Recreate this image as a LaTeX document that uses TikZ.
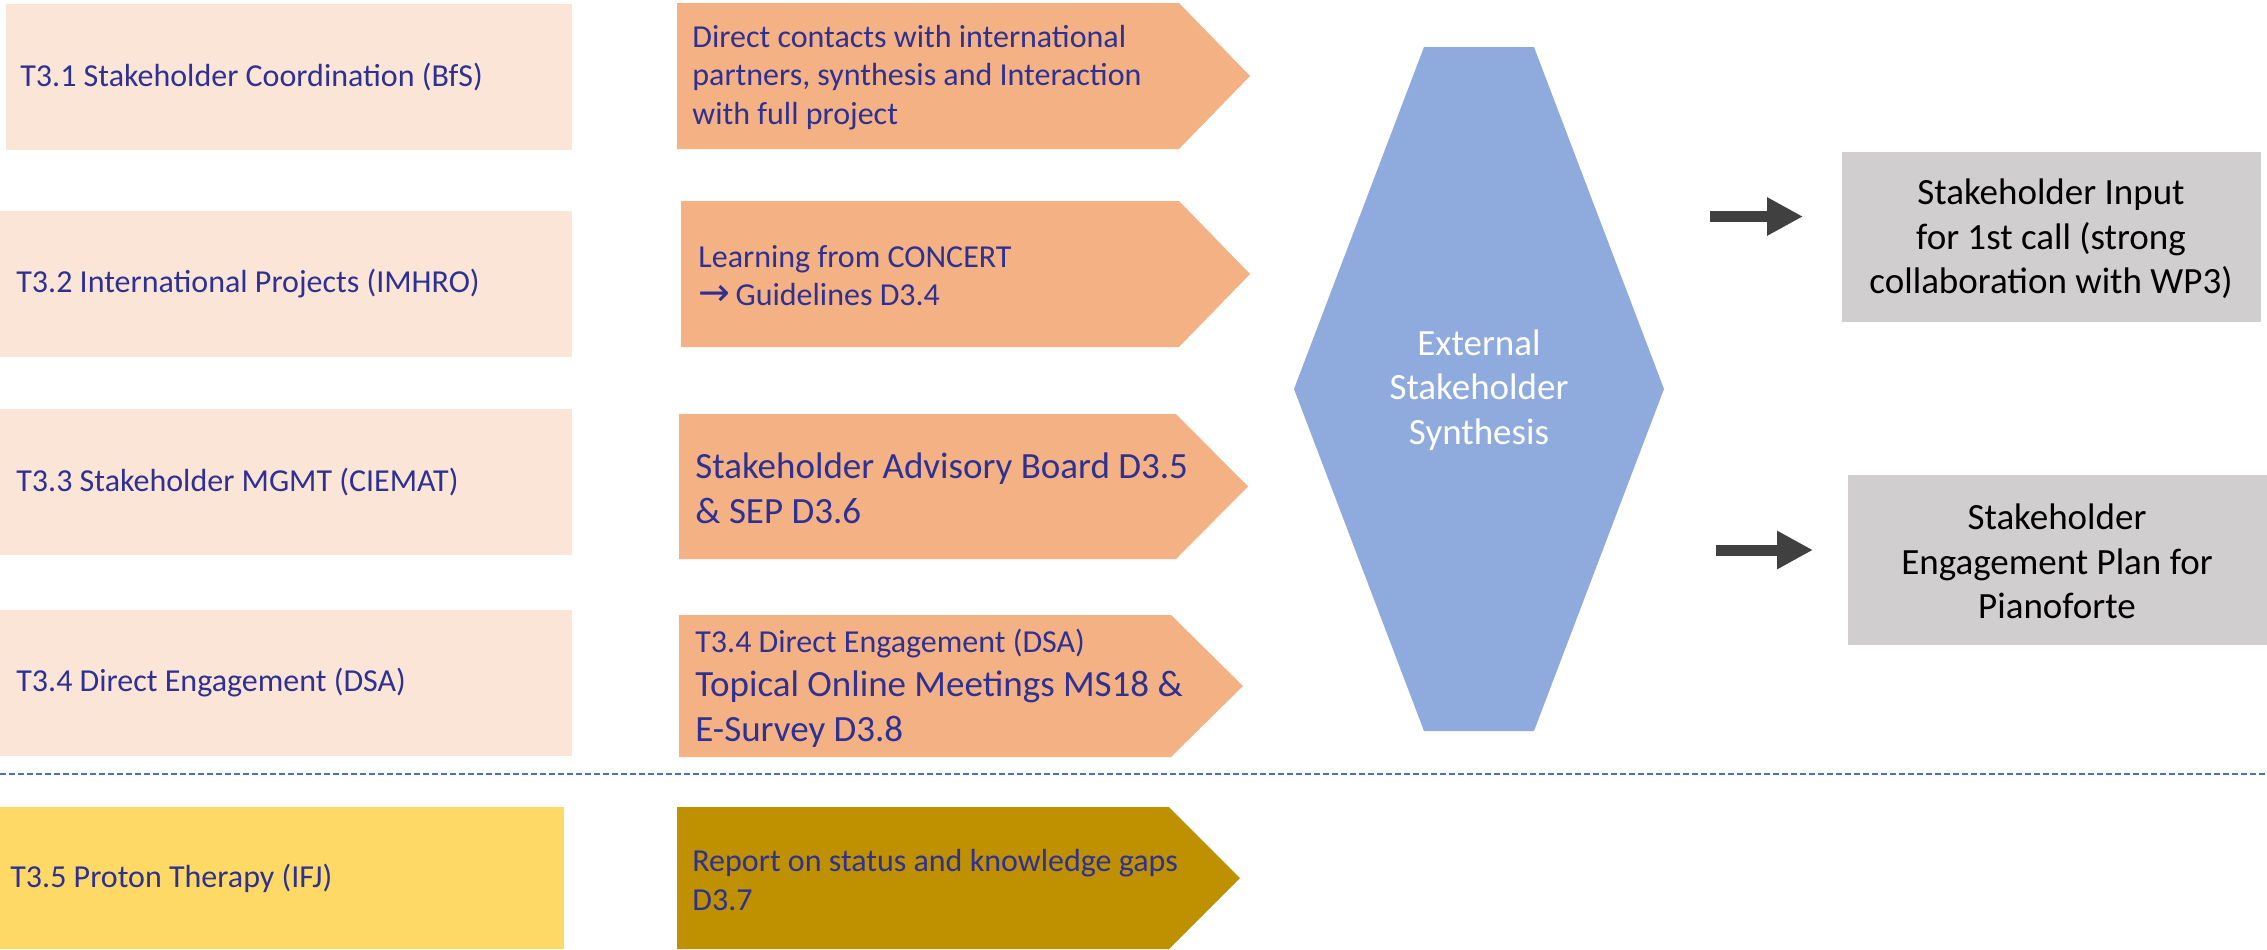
\documentclass[tikz,border=0pt]{standalone}
\usepackage{fontspec}
\setmainfont{Carlito}
\newfontfamily\symf{DejaVu Sans}
\usetikzlibrary{arrows.meta}
\definecolor{peach}{HTML}{FBE5D6}
\definecolor{orangeA}{HTML}{F4B183}
\definecolor{hexblue}{HTML}{8FAADC}
\definecolor{grayB}{HTML}{D0CECE}
\definecolor{yellowB}{HTML}{FFD966}
\definecolor{goldA}{HTML}{BF9000}
\definecolor{dashblue}{HTML}{4472C4}
\definecolor{darkarrow}{HTML}{404040}
\definecolor{navy}{HTML}{2E3192}
\newcommand{\smallf}{\fontsize{16}{19.3}\selectfont}
\newcommand{\bigf}{\fontsize{18.5}{22.3}\selectfont}
\tikzset{
  lbox/.style={fill=peach, draw=none},
  ybox/.style={fill=yellowB, draw=none},
  parrow/.style={fill=orangeA, draw=none},
  garrow/.style={fill=goldA, draw=none},
  gbox/.style={fill=grayB, draw=none},
  ltext/.style={anchor=west, inner sep=0pt, text=navy, font=\smallf, align=left},
  ptext/.style={anchor=west, inner sep=0pt, text=navy, align=left},
  ctext/.style={inner sep=0pt, align=center, font=\bigf},
  blockarrow/.style={draw=darkarrow, line width=5.5pt, -{Triangle[length=18pt,width=18pt]}}
}
\begin{document}
\begin{tikzpicture}[x=0.5pt,y=-0.5pt]
\useasboundingbox (0,0) rectangle (2267,949);
% left boxes
\path[lbox] (6,4) rectangle (572,150);
\path[lbox] (0,211) rectangle (572,357);
\path[lbox] (0,409) rectangle (572,555);
\path[lbox] (0,610) rectangle (572,756);
\path[ybox] (0,807) rectangle (564,949);
\node[ltext] (t1) at (20,77) {T3.1 Stakeholder Coordination (BfS)};
\node[ltext] (t2) at (16,284) {T3.2 International Projects (IMHRO)};
\node[ltext] (t3) at (16,482) {T3.3 Stakeholder MGMT (CIEMAT)};
\node[ltext] (t4) at (16,683) {T3.4 Direct Engagement (DSA)};
\node[ltext] (t5) at (10,878) {T3.5 Proton Therapy (IFJ)};
% pentagon arrows
\path[parrow] (677,3) -- (1179,3) -- (1250,76) -- (1179,149) -- (677,149) -- cycle;
\path[parrow] (681,201) -- (1179,201) -- (1250,274) -- (1179,347) -- (681,347) -- cycle;
\path[parrow] (679,414) -- (1176,414) -- (1248,486.5) -- (1176,559) -- (679,559) -- cycle;
\path[parrow] (679,615) -- (1171,615) -- (1243,686) -- (1171,757) -- (679,757) -- cycle;
\path[garrow] (677,807) -- (1169,807) -- (1240,878) -- (1169,949) -- (677,949) -- cycle;
\node[ptext, font=\smallf] (p1) at (692,77.5) {Direct contacts with international\\partners, synthesis and Interaction\\with full project};
\node[ptext, font=\smallf] (p2) at (698,275.5) {Learning from CONCERT\\{\symf\fontsize{19}{19.3}\selectfont →}\,Guidelines D3.4};
\node[ptext, font=\bigf] (p3) at (695,488) {Stakeholder Advisory Board D3.5\\\& SEP D3.6};
\node[ptext, font=\bigf] (p4) at (695,688) {{\smallf T3.4 Direct Engagement (DSA)}\\Topical Online Meetings MS18 \&\\E-Survey D3.8};
\node[ptext, font=\smallf] (p5) at (692,880) {Report on status and knowledge gaps\\D3.7};
% dashed separator
\coordinate (dl) at (0,774);
\coordinate (dr) at (2267,774);
\draw[dashblue, line width=1pt, dash pattern=on 3pt off 1.5pt] (dl) -- (dr);
% hexagon
\path[fill=hexblue] (1424,47) -- (1534,47) -- (1664,389) -- (1534,731) -- (1424,731) -- (1294,389) -- cycle;
\node[ctext, text=white] (hex) at (1479,390) {External\\Stakeholder\\Synthesis};
% gray boxes
\path[gbox] (1842,152) rectangle (2261,322);
\path[gbox] (1848,475) rectangle (2267,645);
\node[ctext, text=black] (g1) at (2051,239) {Stakeholder Input\\for 1st call (strong\\collaboration with WP3)};
\node[ctext, text=black] (g2) at (2057,561.5) {Stakeholder\\Engagement Plan for\\Pianoforte};
% arrows
\coordinate (a1s) at (1710,216.5);
\coordinate (a1e) at (1803,216.5);
\coordinate (a2s) at (1716,550);
\coordinate (a2e) at (1813,550);
\draw[blockarrow] (a1s) -- (a1e);
\draw[blockarrow] (a2s) -- (a2e);
\end{tikzpicture}
\end{document}
